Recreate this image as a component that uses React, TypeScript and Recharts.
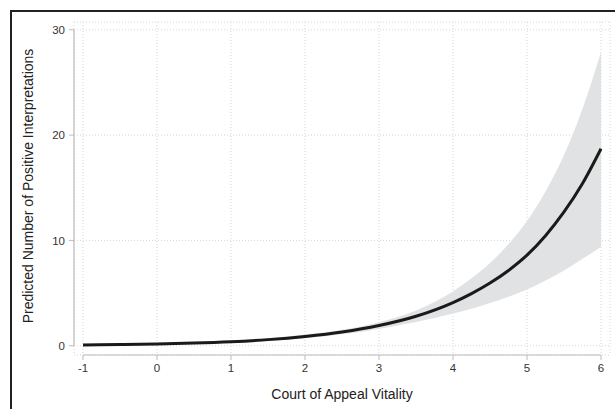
import { ComposedChart, Area, Line, XAxis, YAxis, CartesianGrid, ReferenceLine } from "recharts";

// Court of Appeal Vitality (x), predicted count with 95% CI
const vitality = [-1, -0.5, 0, 0.5, 1, 1.5, 2, 2.5, 3, 3.5, 4, 4.25, 4.5, 4.75, 5, 5.25, 5.5, 5.75, 6];
const predicted = [0.08, 0.12, 0.17, 0.25, 0.38, 0.58, 0.88, 1.3, 1.92, 2.8, 4.1, 4.95, 5.95, 7.15, 8.6, 10.45, 12.7, 15.4, 18.7];
const lower = [0.03, 0.05, 0.09, 0.15, 0.26, 0.44, 0.7, 1.08, 1.6, 2.25, 3.05, 3.5, 4.05, 4.65, 5.35, 6.2, 7.15, 8.25, 9.4];
const upper = [0.13, 0.19, 0.25, 0.35, 0.5, 0.72, 1.06, 1.52, 2.24, 3.35, 5.15, 6.4, 7.85, 9.65, 11.85, 14.65, 18.1, 22.5, 27.9];

const xTicks = [-1, 0, 1, 2, 3, 4, 5, 6];
const yTicks = [0, 10, 20, 30];

const X_DOMAIN: [number, number] = [-1.1216, 6.1216];
const Y_DOMAIN: [number, number] = [-0.88, 30.74];

const data = vitality.map((x, i) => ({
  x,
  pred: predicted[i],
  band: [lower[i], upper[i]],
}));

const FONT = "'Liberation Sans', Arial, Helvetica, sans-serif";
const AXIS_GRAY = "#bcbcbc";

const YTitle = () => (
  <text
    x={33}
    y={186}
    transform="rotate(-90 33 186)"
    textAnchor="middle"
    fontSize={14}
    fill="#222"
    fontFamily={FONT}
  >
    Predicted Number of Positive Interpretations
  </text>
);

const XTitle = () => (
  <text x={342} y={399} textAnchor="middle" fontSize={14} fill="#222" fontFamily={FONT}>
    Court of Appeal Vitality
  </text>
);

export default function App() {
  return (
    <div style={{ position: "fixed", left: 0, top: 0, width: 615, height: 409, overflow: "hidden", background: "#fff" }}>
      <div
        style={{
          position: "absolute",
          left: 10,
          top: 10,
          width: 1000,
          height: 1000,
          borderTop: "2px solid #222",
          borderLeft: "2px solid #222",
        }}
      />
      <div style={{ position: "absolute", left: 0, top: 0 }}>
        <ComposedChart width={615} height={409} data={data} margin={{ top: 22, right: 5, bottom: 0, left: 0 }}>
          <CartesianGrid stroke="#d6d6d6" strokeDasharray="1 2" />
          <XAxis
            type="number"
            dataKey="x"
            domain={X_DOMAIN}
            ticks={xTicks}
            allowDataOverflow
            height={54}
            axisLine={false}
            tickLine={{ stroke: AXIS_GRAY }}
            tickSize={5}
            tickMargin={4}
            tick={{ fontSize: 11.5, fill: "#333", fontFamily: FONT }}
            label={<XTitle />}
          />
          <YAxis
            type="number"
            domain={Y_DOMAIN}
            ticks={yTicks}
            allowDataOverflow
            width={74}
            axisLine={false}
            tickLine={{ stroke: AXIS_GRAY }}
            tickSize={5}
            tickMargin={4}
            tick={{ fontSize: 11.5, fill: "#333", fontFamily: FONT }}
            label={<YTitle />}
          />
          <ReferenceLine
            segment={[{ x: X_DOMAIN[0], y: 0 }, { x: X_DOMAIN[0], y: 30 }]}
            stroke={AXIS_GRAY}
            strokeWidth={1.2}
          />
          <ReferenceLine
            segment={[{ x: -1, y: Y_DOMAIN[0] }, { x: 6, y: Y_DOMAIN[0] }]}
            stroke={AXIS_GRAY}
            strokeWidth={1.2}
          />
          <Area
            dataKey="band"
            type="monotone"
            fill="#e1e2e4"
            fillOpacity={1}
            stroke="none"
            isAnimationActive={false}
          />
          <Line
            dataKey="pred"
            type="monotone"
            stroke="#1a1a1a"
            strokeWidth={3}
            dot={false}
            isAnimationActive={false}
          />
        </ComposedChart>
      </div>
    </div>
  );
}
